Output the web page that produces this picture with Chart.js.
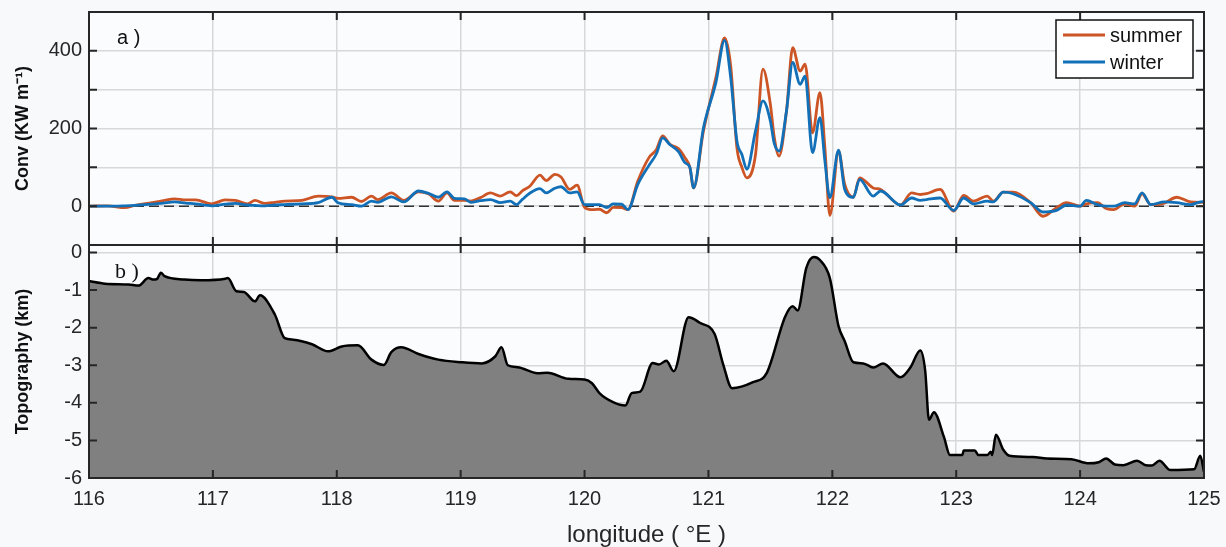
<!DOCTYPE html>
<html>
<head>
<meta charset="utf-8">
<script src="https://cdn.jsdelivr.net/npm/chart.js@4.4.0/dist/chart.umd.min.js"></script>
<style>
  body { margin: 0; background: #f7f9fb; }
  #wrap { position: relative; width: 1226px; height: 547px; }
  canvas { position: absolute; left: 0; }
  #conv { top: 0; }
  #topo { top: 244px; }
</style>
</head>
<body>
<div id="wrap">
  <canvas id="conv" width="1226" height="246"></canvas>
  <canvas id="topo" width="1226" height="303"></canvas>
</div>
<script>
// energy flux convergence along the section (KW/m)
const lon = [
  116.00, 116.15, 116.29, 116.37, 116.51, 116.60, 116.69, 116.78, 116.86, 116.99,
  117.10, 117.18, 117.28, 117.34, 117.42, 117.50, 117.58, 117.72, 117.85, 117.96,
  118.01, 118.12, 118.20, 118.28, 118.33, 118.44, 118.54, 118.66, 118.74, 118.82,
  118.89, 118.95, 119.03, 119.08, 119.16, 119.24, 119.32, 119.40, 119.45, 119.50,
  119.56, 119.64, 119.69, 119.76, 119.81, 119.88, 119.94, 120.00, 120.07, 120.12,
  120.18, 120.23, 120.30, 120.35, 120.43, 120.52, 120.58, 120.63, 120.69, 120.76,
  120.81, 120.85, 120.88, 120.96, 121.06, 121.13, 121.18, 121.23, 121.27, 121.31,
  121.38, 121.44, 121.50, 121.53, 121.57, 121.63, 121.68, 121.74, 121.78, 121.84,
  121.90, 121.94, 121.98, 122.05, 122.10, 122.17, 122.22, 122.33, 122.39, 122.55,
  122.64, 122.71, 122.76, 122.87, 122.98, 123.06, 123.14, 123.25, 123.30, 123.38,
  123.46, 123.60, 123.70, 123.81, 123.89, 124.00, 124.05, 124.14, 124.21, 124.27,
  124.36, 124.44, 124.50, 124.57, 124.68, 124.78, 124.89, 124.97, 125.00
];
const summer = [
  0, 1, -4, 2, 9, 14, 19, 16, 16, 6,
  16, 15, 6, 15, 7, 10, 13, 15, 26, 24,
  20, 23, 12, 26, 17, 34, 15, 37, 32, 13,
  34, 15, 15, 13, 22, 34, 26, 37, 27, 40,
  52, 80, 66, 82, 75, 43, 54, -3, -9, -8,
  -17, -3, -4, -9, 65, 125, 146, 181, 159, 148,
  125, 100, 47, 194, 331, 433, 360, 150, 100, 73,
  133, 353, 262, 180, 129, 245, 408, 348, 366, 189,
  292, 150, -24, 142, 56, 23, 73, 47, 43, 3,
  34, 30, 32, 43, -13, 28, 13, 26, 13, 36,
  36, 9, -26, -4, 9, 0, 6, 9, -6, -9,
  6, 0, 32, 4, 8, 23, 11, 10, 10
];
const winter = [
  0, 0, 1, 2, 5, 8, 11, 8, 6, 1,
  5, 7, 3, 2, 1, 3, 4, 6, 9, 23,
  9, 4, 0, 13, 10, 24, 11, 39, 33, 23,
  37, 20, 19, 10, 14, 17, 9, 13, 4, 18,
  34, 45, 34, 46, 50, 34, 37, 4, 4, 4,
  -4, 6, 5, -9, 56, 105, 135, 176, 158, 140,
  112, 100, 47, 202, 318, 427, 330, 167, 133, 95,
  194, 271, 219, 163, 142, 245, 370, 314, 335, 138,
  228, 116, 22, 144, 43, 23, 69, 26, 39, 3,
  21, 15, 17, 21, -11, 21, 6, 13, 11, 36,
  32, 9, -15, -11, 3, 0, 15, 4, 0, 0,
  9, 6, 34, 4, 11, 9, 4, 11, 12
];

// bottom depth along the same section (km)
const topoLon = [
  116.00, 116.13, 116.32, 116.40, 116.48, 116.52, 116.55, 116.58, 116.61, 116.77,
  116.90, 117.10, 117.12, 117.19, 117.25, 117.34, 117.38, 117.50, 117.58, 117.65,
  117.80, 117.93, 118.04, 118.17, 118.28, 118.38, 118.44, 118.52, 118.66, 118.82,
  119.01, 119.17, 119.28, 119.33, 119.38, 119.46, 119.62, 119.70, 119.87, 120.00,
  120.06, 120.12, 120.23, 120.33, 120.38, 120.45, 120.55, 120.60, 120.66, 120.72,
  120.84, 120.93, 121.05, 121.12, 121.19, 121.36, 121.47, 121.62, 121.68, 121.72,
  121.79, 121.85, 121.90, 121.98, 122.05, 122.10, 122.17, 122.25, 122.33, 122.41,
  122.55, 122.63, 122.71, 122.75, 122.78, 122.82, 122.90, 122.95, 123.05, 123.06,
  123.15, 123.18, 123.25, 123.28, 123.29, 123.32, 123.38, 123.43, 123.62, 123.73,
  123.93, 124.07, 124.15, 124.21, 124.28, 124.35, 124.46, 124.53, 124.58, 124.64,
  124.73, 124.92, 124.97, 125.00
];
const topoKm = [
  -0.76, -0.83, -0.85, -0.88, -0.68, -0.72, -0.70, -0.54, -0.63, -0.72,
  -0.74, -0.70, -0.68, -1.03, -1.05, -1.30, -1.14, -1.65, -2.28, -2.32,
  -2.44, -2.63, -2.50, -2.47, -2.85, -2.99, -2.65, -2.52, -2.70, -2.85,
  -2.92, -2.95, -2.76, -2.52, -3.00, -3.05, -3.21, -3.20, -3.36, -3.38,
  -3.48, -3.74, -3.98, -4.07, -3.74, -3.70, -2.94, -2.98, -2.88, -3.16,
  -1.72, -1.87, -2.17, -2.99, -3.61, -3.45, -3.21, -1.70, -1.43, -1.54,
  -0.41, -0.12, -0.20, -0.68, -1.96, -2.36, -2.92, -2.95, -3.06, -2.95,
  -3.32, -3.06, -2.61, -3.16, -4.45, -4.25, -4.90, -5.39, -5.39, -5.27,
  -5.27, -5.39, -5.39, -5.30, -5.39, -4.85, -5.25, -5.41, -5.44, -5.48,
  -5.50, -5.61, -5.58, -5.48, -5.64, -5.66, -5.54, -5.66, -5.67, -5.54,
  -5.79, -5.77, -5.41, -5.84
];

const lonTicks = [116, 117, 118, 119, 120, 121, 122, 123, 124, 125];

const FONT = "'Liberation Sans', Arial, Helvetica, sans-serif";
Chart.defaults.font.family = FONT;
Chart.defaults.color = '#262626';

const GRID = '#d6d8da';

// light plot background, black box and inward ticks like matlab axes
const frame = {
  id: 'frame',
  beforeDraw(chart) {
    const { ctx, chartArea: a } = chart;
    ctx.save();
    ctx.fillStyle = '#fbfcfd';
    ctx.fillRect(a.left, a.top, a.right - a.left, a.bottom - a.top);
    ctx.restore();
  },
  afterDatasetsDraw(chart, args, opts) {
    const { ctx, chartArea: a, scales: { x, y } } = chart;
    const len = 8;
    ctx.save();
    ctx.strokeStyle = '#262626';
    ctx.lineWidth = 2;
    ctx.beginPath();
    x.ticks.forEach(t => {
      const px = x.getPixelForValue(t.value);
      ctx.moveTo(px, a.top); ctx.lineTo(px, a.top + len);
      ctx.moveTo(px, a.bottom); ctx.lineTo(px, a.bottom - len);
    });
    y.ticks.forEach(t => {
      const py = y.getPixelForValue(t.value);
      ctx.moveTo(a.left, py); ctx.lineTo(a.left + len, py);
      ctx.moveTo(a.right, py); ctx.lineTo(a.right - len, py);
    });
    ctx.stroke();
    ctx.strokeRect(a.left, a.top, a.right - a.left, a.bottom - a.top);

    // panel letter
    if (opts.tag) {
      ctx.fillStyle = '#111';
      ctx.font = opts.tagFont;
      ctx.textBaseline = 'middle';
      ctx.fillText(opts.tag, a.left + opts.tagX, a.top + opts.tagY);
    }

    // legend box
    if (opts.legend) {
      const items = opts.legend.map(l => chart.data.datasets.find(d => d.label === l));
      const bx = a.right - 148, by = a.top + 8, bw = 137, bh = 58;
      ctx.fillStyle = '#ffffff';
      ctx.fillRect(bx, by, bw, bh);
      ctx.lineWidth = 1.5;
      ctx.strokeStyle = '#111';
      ctx.strokeRect(bx, by, bw, bh);
      ctx.font = '20px ' + FONT;
      ctx.textBaseline = 'middle';
      items.forEach((d, i) => {
        const ly = by + 15 + i * 27;
        ctx.strokeStyle = d.borderColor;
        ctx.lineWidth = 2.8;
        ctx.beginPath();
        ctx.moveTo(bx + 7, ly); ctx.lineTo(bx + 49, ly);
        ctx.stroke();
        ctx.fillStyle = '#111';
        ctx.fillText(d.label, bx + 54, ly + 1);
      });
    }
    ctx.restore();
  }
};

// keep the plot box at a fixed place: no room reserved for overhanging labels
const fixWidth = s => {
  s.width = 89;
  s.paddingTop = 0;
  s.paddingBottom = 0;
};

const xScale = (showLabels) => ({
  type: 'linear',
  min: 116,
  max: 125,
  afterBuildTicks: s => { s.ticks = lonTicks.map(v => ({ value: v })); },
  grid: { color: GRID, lineWidth: 1.5, drawTicks: false },
  border: { display: false },
  ticks: { display: showLabels, font: { size: 20 }, padding: 9, color: '#262626' },
  title: {
    display: showLabels,
    text: 'longitude ( \u00B0E )',
    font: { size: 24, lineHeight: 1 },
    padding: { top: 0, bottom: 0 },
    color: '#262626'
  },
  afterFit: s => {
    s.height = showLabels ? 69 : 0;
    s.paddingLeft = 0;
    s.paddingRight = 0;
  }
});

// a) convergence of the energy flux
new Chart(document.getElementById('conv'), {
  type: 'line',
  data: {
    datasets: [
      {
        label: 'winter',
        data: lon.map((x, i) => ({ x, y: winter[i] })),
        borderColor: '#1170b7',
        borderWidth: 2.8,
        pointRadius: 0,
        cubicInterpolationMode: 'monotone',
        order: 0
      },
      {
        label: 'summer',
        data: lon.map((x, i) => ({ x, y: summer[i] })),
        borderColor: '#cc5425',
        borderWidth: 2.8,
        pointRadius: 0,
        cubicInterpolationMode: 'monotone',
        order: 1
      },
      {
        label: 'zero',
        data: [{ x: 116, y: 0 }, { x: 125, y: 0 }],
        borderColor: '#333',
        borderWidth: 1.5,
        borderDash: [10, 5],
        pointRadius: 0,
        order: 2
      }
    ]
  },
  options: {
    responsive: false,
    animation: false,
    layout: { padding: { top: 12, right: 22, left: 0, bottom: 1 } },
    plugins: {
      legend: { display: false },
      tooltip: { enabled: false },
      frame: { tag: 'a )', tagFont: '20px ' + FONT, tagX: 28, tagY: 26, legend: ['summer', 'winter'] }
    },
    scales: {
      x: xScale(false),
      y: {
        min: -100,
        max: 500,
        ticks: {
          stepSize: 100,
          font: { size: 20 },
          padding: 7,
          color: '#262626',
          callback: v => (v >= 0 && v <= 400 && v % 200 === 0) ? v : ''
        },
        grid: { color: GRID, lineWidth: 1.5, drawTicks: false },
        border: { display: false },
        title: {
          display: true,
          text: 'Conv (KW m\u207B\u00B9)',
          font: { size: 18, weight: 'bold' },
          padding: { top: 12, bottom: 0 },
          color: '#111'
        },
        afterFit: fixWidth
      }
    }
  },
  plugins: [frame]
});

// b) bathymetry
new Chart(document.getElementById('topo'), {
  type: 'line',
  data: {
    datasets: [{
      label: 'topography',
      data: topoLon.map((x, i) => ({ x, y: topoKm[i] })),
      borderColor: '#000',
      borderWidth: 2.5,
      backgroundColor: '#808080',
      fill: 'start',
      pointRadius: 0,
      cubicInterpolationMode: 'monotone'
    }]
  },
  options: {
    responsive: false,
    animation: false,
    layout: { padding: { top: 1, right: 22, left: 0, bottom: 0 } },
    plugins: {
      legend: { display: false },
      tooltip: { enabled: false },
      frame: { tag: 'b )', tagFont: '22px "Liberation Serif", "Times New Roman", serif', tagX: 26, tagY: 27 }
    },
    scales: {
      x: xScale(true),
      y: {
        min: -6,
        max: 0.2,
        ticks: {
          stepSize: 1,
          includeBounds: false,
          font: { size: 20 },
          padding: 7,
          color: '#262626'
        },
        grid: { color: GRID, lineWidth: 1.5, drawTicks: false },
        border: { display: false },
        title: {
          display: true,
          text: 'Topography (km)',
          font: { size: 18, weight: 'bold' },
          padding: { top: 12, bottom: 0 },
          color: '#111'
        },
        afterFit: fixWidth
      }
    }
  },
  plugins: [frame]
});
</script>
</body>
</html>
